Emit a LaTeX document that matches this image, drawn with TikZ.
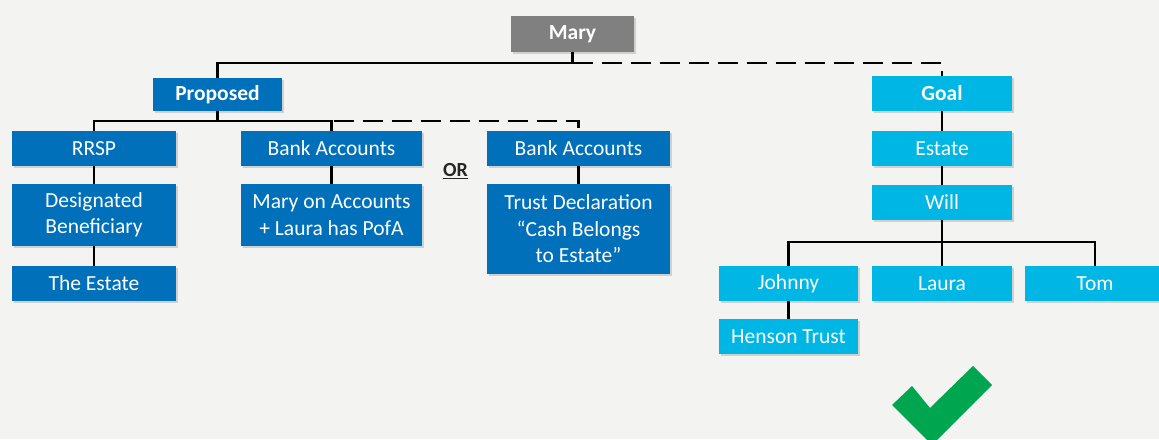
\documentclass[tikz,border=0pt]{standalone}
\usepackage{fontspec}
\setmainfont{Carlito}
\usetikzlibrary{shadows}
\definecolor{bgcol}{HTML}{F3F3F1}
\definecolor{darkblue}{HTML}{0070BA}
\definecolor{cyanblue}{HTML}{00B6E4}
\definecolor{boxgray}{HTML}{808080}
\definecolor{tickgreen}{HTML}{00A54F}
\tikzset{
  basebox/.style={draw=none, text=white, inner sep=0pt, align=center,
    font=\fontsize{21.5}{26.5}\selectfont,
    drop shadow={opacity=0.3, shadow xshift=1.5pt, shadow yshift=-1.5pt}},
  dbox/.style={basebox, fill=darkblue},
  lbox/.style={basebox, fill=cyanblue, minimum width=140pt, minimum height=35pt},
  gbox/.style={basebox, fill=boxgray},
  link/.style={line width=2.3pt, black},
  dashlink/.style={link, dash pattern=on 20pt off 9pt}
}
\begin{document}
\begin{tikzpicture}[x=1pt,y=-1pt]
	% Background
	\fill[bgcol] (0,0) rectangle (1159,439);
	\useasboundingbox (0,0) rectangle (1159,439);
	\clip (0,0) rectangle (1159,439);
	
	% Mary and Proposed
	\node[gbox, minimum width=123pt, minimum height=36pt] (mary) at (572.5,34) {\textbf{Mary}};
	\node[dbox, minimum width=129pt, minimum height=33pt] (proposed) at (217.5,94.5) {\textbf{Proposed}};
	
	% RRSP column
	\node[dbox, minimum width=164pt, minimum height=35pt] (rrsp) at (94,148.5) {RRSP};
	\node[dbox, minimum width=164pt, minimum height=62pt] (desig) at (94,215) {Designated\\Beneficiary};
	\node[dbox, minimum width=164pt, minimum height=35pt] (theestate) at (94,283.5) {The Estate};
	
	% Bank Accounts columns
	\node[dbox, minimum width=181pt, minimum height=35pt] (bankA) at (331.5,148.5) {Bank Accounts};
	\node[dbox, minimum width=181pt, minimum height=62pt] (maryacc) at (331.5,215) {Mary on Accounts\\+ Laura has PofA};
	\node[text=black!85, font=\fontsize{20}{24}\selectfont\bfseries] (ortext) at (455.5,171) {\underline{OR}};
	\node[dbox, minimum width=183pt, minimum height=35pt] (bankB) at (578.5,148.5) {Bank Accounts};
	\node[dbox, minimum width=183pt, minimum height=90pt] (trustdecl) at (578.5,229) {Trust Declaration\\“Cash Belongs\\to Estate”};
	
	% Goal column
	\node[lbox] (goal) at (942,93.5) {\textbf{Goal}};
	\node[lbox] (estate) at (942,148.5) {Estate};
	\node[lbox] (will) at (942,202.5) {Will};
	\node[lbox, minimum width=139pt] (johnny) at (788.5,283.5) {Johnny};
	\node[lbox] (laura) at (942,283.5) {Laura};
	\node[lbox] (tom) at (1095,283.5) {Tom};
	\node[lbox, minimum width=139pt] (henson) at (788.5,336.5) {Henson Trust};
	
	% Junctions
	\coordinate (maryj) at (572.5,63);
	\coordinate (propj) at (217.5,121);
	\coordinate (willj) at (942,242);
	
	% Connectors
	\draw[link] (mary) -- (maryj) -| (proposed);
	\draw[dashlink] (maryj) -| (goal);
	\draw[link] (proposed) -- (propj);
	\draw[link] (rrsp) |- (propj) -| (bankA);
	\draw[dashlink] (propj) -| (bankB);
	\draw[link] (rrsp) -- (desig);
	\draw[link] (desig) -- (theestate);
	\draw[link] (bankA) -- (maryacc);
	\draw[link] (bankB) -- (trustdecl);
	\draw[link] (goal) -- (estate);
	\draw[link] (estate) -- (will);
	\draw[link] (will) -- (laura);
	\draw[link] (johnny) |- (willj) -| (tom);
	\draw[link] (johnny) -- (henson);
	
	% Check mark
	\fill[tickgreen] (912,386) -- (892,405) -- (932,445) -- (992,385) -- (973,366) -- (930,408) -- cycle;
\end{tikzpicture}
\end{document}
